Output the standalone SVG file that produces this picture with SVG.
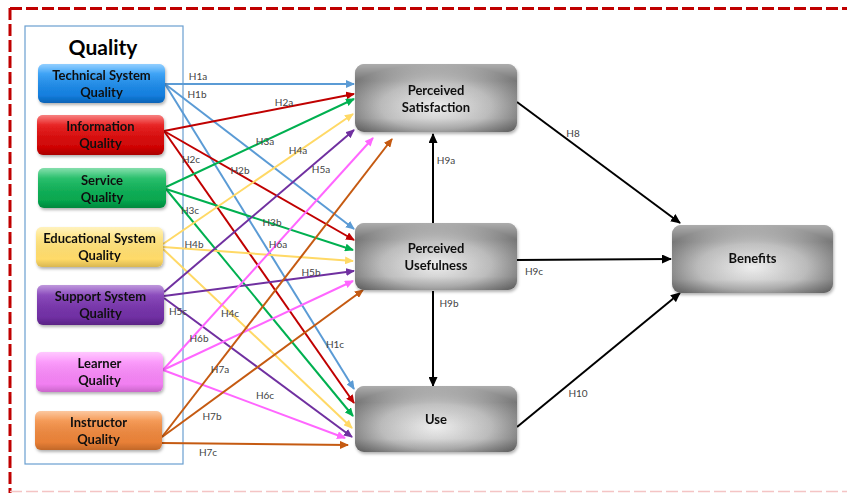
<svg xmlns="http://www.w3.org/2000/svg" width="847" height="493" viewBox="0 0 847 493">
<style>
.nt{font-family:Lato,"Liberation Sans",sans-serif;font-weight:bold;font-size:13px;fill:#111;text-anchor:middle}
.lb{font-family:Lato,"Liberation Sans",sans-serif;font-size:10px;fill:#444;text-anchor:middle}
.c line{stroke-width:2;fill:none}
.gl{fill:url(#gloss)}
</style>
<defs>
<linearGradient id="gloss" x1="0" y1="0" x2="0" y2="1">
<stop offset="0" stop-color="#fff" stop-opacity="0.45"/>
<stop offset="0.25" stop-color="#fff" stop-opacity="0.08"/>
<stop offset="0.8" stop-color="#000" stop-opacity="0"/>
<stop offset="1" stop-color="#000" stop-opacity="0.15"/>
</linearGradient>
<linearGradient id="gB" x1="0" y1="0" x2="0" y2="1"><stop offset="0" stop-color="#3aa8ff"/><stop offset="1" stop-color="#0a74d6"/></linearGradient>
<linearGradient id="gR" x1="0" y1="0" x2="0" y2="1"><stop offset="0" stop-color="#f01a1a"/><stop offset="1" stop-color="#c80000"/></linearGradient>
<linearGradient id="gG" x1="0" y1="0" x2="0" y2="1"><stop offset="0" stop-color="#22c46a"/><stop offset="1" stop-color="#00a048"/></linearGradient>
<linearGradient id="gY" x1="0" y1="0" x2="0" y2="1"><stop offset="0" stop-color="#ffe88a"/><stop offset="1" stop-color="#ffd760"/></linearGradient>
<linearGradient id="gP" x1="0" y1="0" x2="0" y2="1"><stop offset="0" stop-color="#8a44c0"/><stop offset="1" stop-color="#6a2a9c"/></linearGradient>
<linearGradient id="gK" x1="0" y1="0" x2="0" y2="1"><stop offset="0" stop-color="#ff9cff"/><stop offset="1" stop-color="#ee78ee"/></linearGradient>
<linearGradient id="gO" x1="0" y1="0" x2="0" y2="1"><stop offset="0" stop-color="#f99a52"/><stop offset="1" stop-color="#e47a30"/></linearGradient>
<radialGradient id="gray" cx="0.5" cy="0.62" r="0.62">
<stop offset="0" stop-color="#f2f2f2"/>
<stop offset="0.55" stop-color="#bdbdbd"/>
<stop offset="1" stop-color="#6a6a6a"/>
</radialGradient>
<filter id="sh" x="-10%" y="-10%" width="125%" height="130%">
<feDropShadow dx="1" dy="2" stdDeviation="1.5" flood-color="#000" flood-opacity="0.3"/>
</filter>
<marker id="mB" markerWidth="9" markerHeight="8" refX="8" refY="4" orient="auto" markerUnits="userSpaceOnUse"><path d="M0,0 L9,4 L0,8 z" fill="#5b9bd5"/></marker>
<marker id="mR" markerWidth="9" markerHeight="8" refX="8" refY="4" orient="auto" markerUnits="userSpaceOnUse"><path d="M0,0 L9,4 L0,8 z" fill="#c00000"/></marker>
<marker id="mG" markerWidth="9" markerHeight="8" refX="8" refY="4" orient="auto" markerUnits="userSpaceOnUse"><path d="M0,0 L9,4 L0,8 z" fill="#00b050"/></marker>
<marker id="mY" markerWidth="9" markerHeight="8" refX="8" refY="4" orient="auto" markerUnits="userSpaceOnUse"><path d="M0,0 L9,4 L0,8 z" fill="#ffd966"/></marker>
<marker id="mP" markerWidth="9" markerHeight="8" refX="8" refY="4" orient="auto" markerUnits="userSpaceOnUse"><path d="M0,0 L9,4 L0,8 z" fill="#7030a0"/></marker>
<marker id="mK" markerWidth="9" markerHeight="8" refX="8" refY="4" orient="auto" markerUnits="userSpaceOnUse"><path d="M0,0 L9,4 L0,8 z" fill="#ff66ff"/></marker>
<marker id="mO" markerWidth="9" markerHeight="8" refX="8" refY="4" orient="auto" markerUnits="userSpaceOnUse"><path d="M0,0 L9,4 L0,8 z" fill="#c55a11"/></marker>
<marker id="mK0" markerWidth="10" markerHeight="9" refX="9" refY="4.5" orient="auto" markerUnits="userSpaceOnUse"><path d="M0,0 L10,4.5 L0,9 z" fill="#000"/></marker>
</defs>

<rect width="847" height="493" fill="#fff"/>
<!-- outer dashed frame -->
<line x1="10" y1="8.5" x2="847" y2="8.5" stroke="#c00000" stroke-width="3" stroke-dasharray="12 4"/>
<line x1="10" y1="8" x2="10" y2="493" stroke="#c00000" stroke-width="3" stroke-dasharray="12 4"/>
<line x1="10" y1="491.5" x2="847" y2="491.5" stroke="#f4c4c4" stroke-width="1.5" stroke-dasharray="12 4"/>

<!-- Quality group frame -->
<g id="quality-group">
<rect x="25" y="26" width="158" height="438" fill="none" stroke="#6a9fd0" stroke-width="1.2"/>
<text x="103" y="55" font-family="Lato,'Liberation Sans',sans-serif" font-weight="bold" font-size="21" fill="#000" text-anchor="middle">Quality</text>
</g>

<!-- connectors -->
<g id="connectors" class="c">
<line x1="165" y1="84" x2="354" y2="84" stroke="#5b9bd5" marker-end="url(#mB)"/>
<line x1="165" y1="84" x2="354" y2="229" stroke="#5b9bd5" marker-end="url(#mB)"/>
<line x1="165" y1="84" x2="354" y2="389" stroke="#5b9bd5" marker-end="url(#mB)"/>

<line x1="164" y1="131" x2="354" y2="94" stroke="#c00000" marker-end="url(#mR)"/>
<line x1="164" y1="131" x2="354" y2="240" stroke="#c00000" marker-end="url(#mR)"/>
<line x1="164" y1="131" x2="354" y2="403" stroke="#c00000" marker-end="url(#mR)"/>

<line x1="166" y1="187" x2="354" y2="99" stroke="#00b050" marker-end="url(#mG)"/>
<line x1="166" y1="189" x2="353" y2="250" stroke="#00b050" marker-end="url(#mG)"/>
<line x1="166" y1="189" x2="353" y2="416" stroke="#00b050" marker-end="url(#mG)"/>

<line x1="163" y1="244" x2="353" y2="114" stroke="#ffd966" marker-end="url(#mY)"/>
<line x1="163" y1="247" x2="353" y2="261" stroke="#ffd966" marker-end="url(#mY)"/>
<line x1="163" y1="249" x2="352" y2="428" stroke="#ffd966" marker-end="url(#mY)"/>

<line x1="164" y1="292" x2="354" y2="130" stroke="#7030a0" marker-end="url(#mP)"/>
<line x1="164" y1="296" x2="354" y2="271" stroke="#7030a0" marker-end="url(#mP)"/>
<line x1="164" y1="298" x2="352" y2="437" stroke="#7030a0" marker-end="url(#mP)"/>

<line x1="163" y1="370" x2="373" y2="138" stroke="#ff66ff" marker-end="url(#mK)"/>
<line x1="163" y1="370" x2="353" y2="281" stroke="#ff66ff" marker-end="url(#mK)"/>
<line x1="163" y1="370" x2="345" y2="438" stroke="#ff66ff" marker-end="url(#mK)"/>

<line x1="162" y1="437" x2="392" y2="139" stroke="#c55a11" marker-end="url(#mO)"/>
<line x1="162" y1="437" x2="363" y2="290" stroke="#c55a11" marker-end="url(#mO)"/>
<line x1="162" y1="443" x2="348" y2="445" stroke="#c55a11" marker-end="url(#mO)"/>

<line x1="517" y1="102" x2="680" y2="223" stroke="#000" stroke-width="2.5" marker-end="url(#mK0)"/>
<line x1="517" y1="260" x2="671" y2="259" stroke="#000" stroke-width="2.5" marker-end="url(#mK0)"/>
<line x1="517" y1="427" x2="680" y2="293" stroke="#000" stroke-width="2.5" marker-end="url(#mK0)"/>
<line x1="433" y1="223" x2="433" y2="134" stroke="#000" stroke-width="2.5" marker-end="url(#mK0)"/>
<line x1="433" y1="291" x2="433" y2="386" stroke="#000" stroke-width="2.5" marker-end="url(#mK0)"/>

<g id="connector-labels">
<text class="lb" x="198" y="80">H1a</text>
<text class="lb" x="197" y="98">H1b</text>
<text class="lb" x="335" y="348">H1c</text>
<text class="lb" x="284" y="106">H2a</text>
<text class="lb" x="240" y="174">H2b</text>
<text class="lb" x="191" y="163">H2c</text>
<text class="lb" x="265" y="145">H3a</text>
<text class="lb" x="272" y="226">H3b</text>
<text class="lb" x="190" y="214">H3c</text>
<text class="lb" x="298" y="154">H4a</text>
<text class="lb" x="194" y="248">H4b</text>
<text class="lb" x="230" y="317">H4c</text>
<text class="lb" x="321" y="173">H5a</text>
<text class="lb" x="311" y="276">H5b</text>
<text class="lb" x="178" y="315">H5c</text>
<text class="lb" x="278" y="248">H6a</text>
<text class="lb" x="199" y="342">H6b</text>
<text class="lb" x="265" y="399">H6c</text>
<text class="lb" x="220" y="373">H7a</text>
<text class="lb" x="212" y="420">H7b</text>
<text class="lb" x="208" y="456">H7c</text>
<text class="lb" x="573" y="137">H8</text>
<text class="lb" x="446" y="164">H9a</text>
<text class="lb" x="449" y="307">H9b</text>
<text class="lb" x="534" y="275">H9c</text>
<text class="lb" x="578" y="397">H10</text>
</g>
</g>

<!-- left nodes -->
<g id="technical-system-quality" filter="url(#sh)">
<rect x="38" y="64" width="127" height="39" rx="6" fill="url(#gB)"/>
<rect x="38" y="64" width="127" height="39" rx="6" class="gl"/>
<text class="nt" x="101.5" y="80">Technical System</text>
<text class="nt" x="101.5" y="97">Quality</text>
</g>
<g id="information-quality" filter="url(#sh)">
<rect x="37" y="115" width="127" height="40" rx="6" fill="url(#gR)"/>
<rect x="37" y="115" width="127" height="40" rx="6" class="gl"/>
<text class="nt" x="100.5" y="131">Information</text>
<text class="nt" x="100.5" y="148">Quality</text>
</g>
<g id="service-quality" filter="url(#sh)">
<rect x="38" y="168" width="128" height="40" rx="6" fill="url(#gG)"/>
<rect x="38" y="168" width="128" height="40" rx="6" class="gl"/>
<text class="nt" x="102" y="185">Service</text>
<text class="nt" x="102" y="202">Quality</text>
</g>
<g id="educational-system-quality" filter="url(#sh)">
<rect x="36" y="227" width="127" height="40" rx="6" fill="url(#gY)"/>
<rect x="36" y="227" width="127" height="40" rx="6" class="gl"/>
<text class="nt" x="99.5" y="243">Educational System</text>
<text class="nt" x="99.5" y="260">Quality</text>
</g>
<g id="support-system-quality" filter="url(#sh)">
<rect x="37" y="285" width="127" height="40" rx="6" fill="url(#gP)"/>
<rect x="37" y="285" width="127" height="40" rx="6" class="gl"/>
<text class="nt" x="100.5" y="301">Support System</text>
<text class="nt" x="100.5" y="318">Quality</text>
</g>
<g id="learner-quality" filter="url(#sh)">
<rect x="36" y="352" width="127" height="40" rx="6" fill="url(#gK)"/>
<rect x="36" y="352" width="127" height="40" rx="6" class="gl"/>
<text class="nt" x="99.5" y="368">Learner</text>
<text class="nt" x="99.5" y="385">Quality</text>
</g>
<g id="instructor-quality" filter="url(#sh)">
<rect x="35" y="411" width="127" height="39" rx="6" fill="url(#gO)"/>
<rect x="35" y="411" width="127" height="39" rx="6" class="gl"/>
<text class="nt" x="98.5" y="427">Instructor</text>
<text class="nt" x="98.5" y="444">Quality</text>
</g>

<!-- right nodes -->
<g id="perceived-satisfaction" filter="url(#sh)">
<rect x="355" y="64" width="162" height="68" rx="9" fill="url(#gray)"/>
<rect x="355" y="64" width="162" height="68" rx="9" class="gl"/>
<text class="nt" x="436" y="94.5">Perceived</text>
<text class="nt" x="436" y="111.5">Satisfaction</text>
</g>
<g id="perceived-usefulness" filter="url(#sh)">
<rect x="355" y="223" width="162" height="67" rx="9" fill="url(#gray)"/>
<rect x="355" y="223" width="162" height="67" rx="9" class="gl"/>
<text class="nt" x="436" y="252.5">Perceived</text>
<text class="nt" x="436" y="269.5">Usefulness</text>
</g>
<g id="use" filter="url(#sh)">
<rect x="355" y="386" width="162" height="66" rx="9" fill="url(#gray)"/>
<rect x="355" y="386" width="162" height="66" rx="9" class="gl"/>
<text class="nt" x="436" y="423.5">Use</text>
</g>
<g id="benefits" filter="url(#sh)">
<rect x="672" y="225" width="161" height="68" rx="9" fill="url(#gray)"/>
<rect x="672" y="225" width="161" height="68" rx="9" class="gl"/>
<text class="nt" x="752.5" y="263">Benefits</text>
</g>
</svg>
